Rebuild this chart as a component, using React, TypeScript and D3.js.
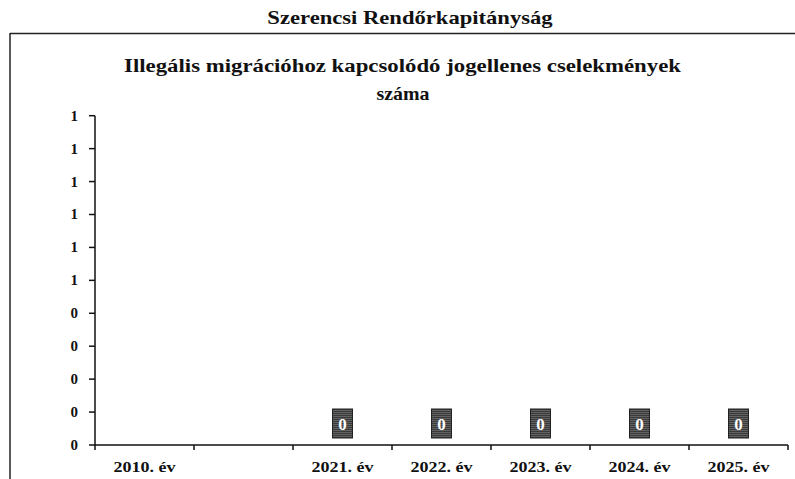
import React from "react";
import * as d3 from "d3";

const categories = ["2010. év", "", "2021. év", "2022. év", "2023. év", "2024. év", "2025. év"];
const values: (number | null)[] = [null, null, 0, 0, 0, 0, 0];
const yTicks = [0, 0.1, 0.2, 0.3, 0.4, 0.5, 0.6, 0.7, 0.8, 0.9, 1.0];
const yTickLabels = ["0", "0", "0", "0", "0", "1", "1", "1", "1", "1", "1"];
const outerTitle = "Szerencsi Rendőrkapitányság";
const titleLines = ["Illegális migrációhoz kapcsolódó jogellenes cselekmények", "száma"];

const W = 795;
const H = 479;
const FONT = "'Liberation Serif', 'Times New Roman', serif";

export default function App() {
  const x = d3.scaleBand<string>().domain(categories.map((_, i) => String(i))).range([95, 788]).padding(0);
  const y = d3.scaleLinear().domain([0, 1]).range([445, 115.7]);
  const boundaries = d3.range(categories.length + 1).map((i) => 95 + i * x.step());

  return (
    <div style={{ position: "absolute", left: 0, top: 0 }}>
      <svg width={W} height={H} style={{ display: "block", background: "#fff" }}>
        <defs>
          <pattern id="ht" width="2" height="2" patternUnits="userSpaceOnUse">
            <rect width="2" height="2" fill="#3a3a3a" />
            <rect width="1" height="1" fill="#8a8a8a" />
          </pattern>
        </defs>
        {/* outer frame */}
        <line x1={10} y1={33.5} x2={W} y2={33.5} stroke="#222" strokeWidth={1.5} />
        <line x1={10} y1={33} x2={10} y2={H} stroke="#222" strokeWidth={1.5} />
        <g transform="translate(410,24) scale(1.19,1)">
          <text x={0} y={0} textAnchor="middle" fontFamily={FONT} fontWeight="bold" fontSize={19} fill="#111">
            {outerTitle}
          </text>
        </g>
        <g transform="translate(402.5,72) scale(1.2,1)">
          <text x={0} y={0} textAnchor="middle" fontFamily={FONT} fontWeight="bold" fontSize={19} fill="#111">
            {titleLines[0]}
          </text>
        </g>
        <g transform="translate(403,100) scale(1.05,1)">
          <text x={0} y={0} textAnchor="middle" fontFamily={FONT} fontWeight="bold" fontSize={19} fill="#111">
            {titleLines[1]}
          </text>
        </g>
        {/* y axis */}
        <line x1={95} y1={y(1)} x2={95} y2={y(0)} stroke="#111" strokeWidth={1.5} />
        {yTicks.map((v, i) => (
          <g key={i}>
            <line x1={89} x2={95} y1={y(v)} y2={y(v)} stroke="#111" strokeWidth={1.5} />
            <text x={78} y={y(v) + 5} textAnchor="end" fontFamily={FONT} fontWeight="bold" fontSize={15} fill="#111">
              {yTickLabels[i]}
            </text>
          </g>
        ))}
        {/* x axis */}
        <line x1={95} y1={y(0)} x2={788} y2={y(0)} stroke="#111" strokeWidth={1.5} />
        {boundaries.map((bx, i) => (
          <line key={i} x1={bx} x2={bx} y1={y(0)} y2={y(0) + 5} stroke="#111" strokeWidth={1.5} />
        ))}
        {categories.map((c, i) =>
          c ? (
            <g key={i} transform={`translate(${(x(String(i)) as number) + x.bandwidth() / 2},472) scale(1.2,1)`}>
              <text x={0} y={0} textAnchor="middle" fontFamily={FONT} fontWeight="bold" fontSize={15} fill="#111">
                {c}
              </text>
            </g>
          ) : null
        )}
        {/* data labels */}
        {values.map((v, i) =>
          v === null ? null : (
            <g key={i} transform={`translate(${(x(String(i)) as number) + x.bandwidth() / 2},${y(v) - 21})`}>
              <rect x={-10} y={-15} width={20} height={29} fill="url(#ht)" stroke="#222" strokeWidth={1} />
              <text x={0} y={6} textAnchor="middle" fontFamily={FONT} fontWeight="bold" fontSize={17} fill="#fff">
                {String(v)}
              </text>
            </g>
          )
        )}
      </svg>
    </div>
  );
}
